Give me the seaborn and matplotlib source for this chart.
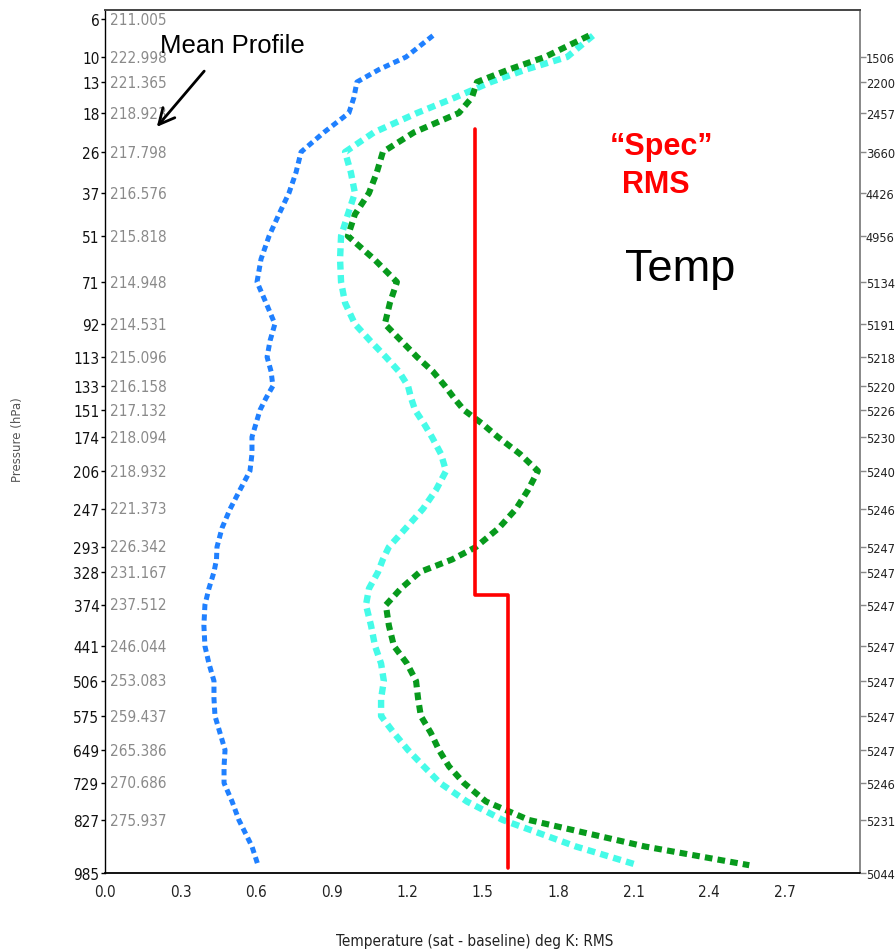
import numpy as np
import pandas as pd
import matplotlib
matplotlib.use("Agg")
import matplotlib.pyplot as plt
from matplotlib.ticker import FixedLocator, NullLocator, MultipleLocator
from matplotlib.font_manager import FontProperties, findfont
import matplotlib.transforms as mtransforms
import seaborn as sns

# ---------------- data ----------------
LEVEL_LABELS = [6, 10, 13, 18, 26, 37, 51, 71, 92, 113, 133, 151, 174, 206, 247,
                293, 328, 374, 441, 506, 575, 649, 729, 827, 985]
MEAN_TEMP = ["211.005", "222.998", "221.365", "218.923", "217.798", "216.576",
             "215.818", "214.948", "214.531", "215.096", "216.158", "217.132",
             "218.094", "218.932", "221.373", "226.342", "231.167", "237.512",
             "246.044", "253.083", "259.437", "265.386", "270.686", "275.937", ""]
SAMPLE_COUNT = ["", "1506", "2200", "2457", "3660", "4426", "4956", "5134", "5191",
                "5218", "5220", "5226", "5230", "5240", "5246", "5247", "5247",
                "5247", "5247", "5247", "5247", "5247", "5246", "5231", "5044"]

PRESSURE = [7.5, 10, 11.4, 13, 15.3, 18, 21.6, 26, 31, 37, 43.4, 51, 60.2, 71, 80.8,
            92, 102, 113, 122.6, 133, 141.7, 151, 162.1, 174, 189.3, 206, 225.6, 247,
            269, 293, 310, 328, 350.2, 374, 406.1, 441, 472.4, 506, 539.4, 575, 610.9,
            649, 687.8, 729, 776.5, 827, 902.5, 960]
BLUE = [1.303, 1.196, 1.089, 1.001, 0.989, 0.969, 0.870, 0.779, 0.759, 0.731, 0.691,
        0.652, 0.620, 0.604, 0.640, 0.675, 0.656, 0.644, 0.660, 0.667, 0.640, 0.616,
        0.600, 0.584, 0.584, 0.576, 0.536, 0.497, 0.465, 0.445, 0.443, 0.433, 0.413,
        0.397, 0.393, 0.397, 0.413, 0.433, 0.433, 0.437, 0.457, 0.477, 0.473, 0.473,
        0.505, 0.532, 0.584, 0.608]
CYAN = [1.939, 1.836, 1.673, 1.534, 1.391, 1.240, 1.069, 0.954, 0.977, 0.993, 0.965,
        0.938, 0.934, 0.938, 0.954, 0.993, 1.053, 1.116, 1.168, 1.204, 1.216, 1.232,
        1.267, 1.299, 1.335, 1.355, 1.315, 1.263, 1.196, 1.128, 1.104, 1.085, 1.049,
        1.037, 1.057, 1.073, 1.097, 1.108, 1.097, 1.097, 1.148, 1.204, 1.267, 1.331,
        1.438, 1.581, 1.871, 2.118]
GREEN = [1.923, 1.748, 1.605, 1.478, 1.458, 1.406, 1.228, 1.104, 1.080, 1.049, 0.993,
         0.965, 1.069, 1.160, 1.132, 1.112, 1.176, 1.240, 1.303, 1.351, 1.387, 1.426,
         1.498, 1.561, 1.649, 1.720, 1.681, 1.633, 1.565, 1.474, 1.379, 1.251, 1.176,
         1.116, 1.128, 1.148, 1.200, 1.236, 1.244, 1.255, 1.295, 1.327, 1.367, 1.426,
         1.514, 1.685, 2.145, 2.560]

SPEC_P = [21, 360, 360, 970]
SPEC_V = [1.47, 1.47, 1.60, 1.60]

X_TICKS = [0.0, 0.3, 0.6, 0.9, 1.2, 1.5, 1.8, 2.1, 2.4, 2.7]

# ---------------- style ----------------
sns.set_style("white")
plt.rcParams["font.family"] = ["Liberation Sans", "DejaVu Sans"]

# narrow font for axis numbers: condensed DejaVu if available
_cond = FontProperties(family="DejaVu Sans", stretch="condensed")
_path = findfont(_cond)
HAS_COND = "Condensed" in _path


def narrow(size):
    if HAS_COND:
        return FontProperties(family="DejaVu Sans", stretch="condensed", size=size)
    return FontProperties(family="DejaVu Sans", size=size * 0.85)


W, H = 896, 953
fig = plt.figure(figsize=(W / 100, H / 100), dpi=100)
fig.patch.set_facecolor("white")

x0, x1, y_top, y_bot = 105, 860, 11, 874
ax = fig.add_axes([x0 / W, 1 - y_bot / H, (x1 - x0) / W, (y_bot - y_top) / H])

# vertical (pressure) scale: piecewise-log through the labelled levels
AXIS_ROWS = np.array([20, 58, 83, 114, 153, 194, 237, 283, 325, 358, 387, 411, 438,
                      472, 510, 548, 573, 606, 647, 682, 717, 751, 784, 821, 874], float)
lp = np.log(np.array(LEVEL_LABELS, float))
s0 = (AXIS_ROWS[1] - AXIS_ROWS[0]) / (lp[1] - lp[0])
s1 = (AXIS_ROWS[-1] - AXIS_ROWS[-2]) / (lp[-1] - lp[-2])
XP = np.concatenate([[lp[0] - 5], lp, [lp[-1] + 5]])
FP = np.concatenate([[AXIS_ROWS[0] - 5 * s0], AXIS_ROWS, [AXIS_ROWS[-1] + 5 * s1]])


def fwd(p):
    p = np.clip(np.asarray(p, float), 1e-6, None)
    return np.interp(np.log(p), XP, FP)


def inv(y):
    return np.exp(np.interp(np.asarray(y, float), FP, XP))


ax.set_yscale("function", functions=(fwd, inv))

df = pd.DataFrame({"pressure": PRESSURE, "blue": BLUE, "cyan": CYAN, "green": GREEN})
series = [("blue", "#1f80ff", 3.6), ("cyan", "#45fbe8", 4.6), ("green", "#079a1c", 4.4)]
for col, color, lw in series:
    sns.lineplot(data=df, x=col, y="pressure", orient="y", sort=True, estimator=None,
                 color=color, linewidth=lw, linestyle=(0, (1.25, 0.85)),
                 solid_capstyle="butt", dash_capstyle="butt", ax=ax, legend=False)

spec = pd.DataFrame({"pressure": SPEC_P, "value": SPEC_V})
sns.lineplot(data=spec, x="value", y="pressure", orient="y", sort=False, estimator=None,
             color="#ff0000", linewidth=2.6, ax=ax, legend=False)

ax.set_xlim(0, 3.0)
ax.set_ylim(985, float(inv(11)))

# spines
ax.spines["left"].set_linestyle((0, (2, 1)))
ax.spines["left"].set_linewidth(1.0)
ax.spines["left"].set_color("black")
ax.spines["bottom"].set_color("black")
ax.spines["bottom"].set_linewidth(1.3)
ax.spines["top"].set_color("#444444")
ax.spines["top"].set_linewidth(1.4)
ax.spines["right"].set_color("#888888")
ax.spines["right"].set_linewidth(1.4)

# x axis ticks
ax.xaxis.set_major_locator(FixedLocator(X_TICKS))
ax.xaxis.set_minor_locator(MultipleLocator(0.06))
ax.set_xticklabels([f"{t:.1f}" for t in X_TICKS])
ax.tick_params(axis="x", which="major", direction="out", length=7, width=1,
               color="black", pad=1)
ax.tick_params(axis="x", which="minor", direction="out", length=4, width=0.8,
               color="black")
for lab in ax.get_xticklabels():
    lab.set_fontproperties(narrow(11))
    lab.set_color("#222222")

# left y ticks (pressure)
ax.yaxis.set_major_locator(FixedLocator(LEVEL_LABELS))
ax.yaxis.set_minor_locator(NullLocator())
ax.set_yticklabels([str(v) for v in LEVEL_LABELS])
ax.tick_params(axis="y", which="major", direction="out", length=3, width=1,
               color="black", pad=1)
for lab in ax.get_yticklabels():
    lab.set_fontproperties(narrow(11))
    lab.set_color("#111111")
ax.set_xlabel("")
ax.set_ylabel("")

# mean profile values (gray, inside)
blend = mtransforms.blended_transform_factory(ax.transAxes, ax.transData)
for p, t in zip(LEVEL_LABELS, MEAN_TEMP):
    if t:
        ax.text(0.006, p, t, transform=blend, ha="left", va="center",
                color="#8a8a8a", fontproperties=narrow(11))

# right axis (sample counts)
ax2 = ax.twinx()
ax2.set_yscale("function", functions=(fwd, inv))
ax2.set_ylim(ax.get_ylim())
lv = [p for p, s in zip(LEVEL_LABELS, SAMPLE_COUNT) if s]
ax2.yaxis.set_major_locator(FixedLocator(lv))
ax2.yaxis.set_minor_locator(NullLocator())
ax2.set_yticklabels([s for s in SAMPLE_COUNT if s])
ax2.tick_params(axis="y", direction="out", length=4, width=1, color="#888888", pad=0.3)
for lab in ax2.get_yticklabels():
    lab.set_fontproperties(narrow(9.2) if HAS_COND else
                           FontProperties(family="DejaVu Sans", size=7.8))
    lab.set_color("#222222")
for sp in ax2.spines.values():
    sp.set_visible(False)
ax2.grid(False)
ax.grid(False)

# labels
fig.text(475 / W, 1 - 942 / H, "Temperature (sat - baseline) deg K: RMS",
         ha="center", va="center", color="#222222", fontproperties=narrow(11))
fig.text(18 / W, 1 - 440 / H, "Pressure (hPa)", rotation=90, ha="center",
         va="center", fontsize=8.5, color="#555555", family="DejaVu Sans")

# annotations
fig.text(160 / W, 1 - 46 / H, "Mean Profile", ha="left", va="center",
         fontsize=18.5, color="black")
ax.annotate("", xy=(155 / W, 1 - 130 / H), xytext=(206 / W, 1 - 70 / H),
            xycoords="figure fraction", textcoords="figure fraction",
            arrowprops=dict(arrowstyle="->", lw=2, color="black", mutation_scale=28))
fig.text(661 / W, 1 - 147 / H, "\u201cSpec\u201d", ha="center", va="center",
         fontsize=22, fontweight="bold", color="#ff0000")
fig.text(656 / W, 1 - 185 / H, "RMS", ha="center", va="center",
         fontsize=22, fontweight="bold", color="#ff0000")
fig.text(680 / W, 1 - 270 / H, "Temp", ha="center", va="center",
         fontsize=32.5, color="black")

fig.savefig("out.png", dpi=100, facecolor="white")
